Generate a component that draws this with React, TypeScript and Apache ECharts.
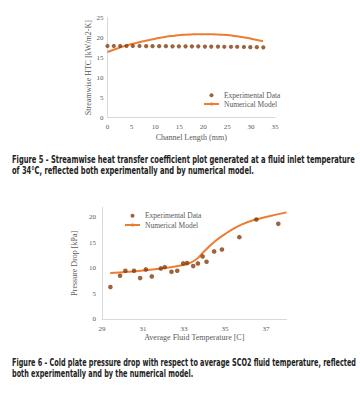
import React, { useEffect, useRef } from "react";
import * as echarts from "echarts";

// ---- Figure 5 data ----
const htcExpX = [0, 1.32, 2.64, 3.97, 5.29, 6.69, 8.08, 9.41, 10.8, 12.2, 13.59, 14.92, 16.31, 17.64, 18.96, 20.36, 21.68, 23.08, 24.4, 25.8, 27.1, 28.5, 29.84, 31.2, 32.56];
const htcExpY = [17.9, 17.9, 17.9, 17.9, 17.9, 17.9, 17.85, 17.85, 17.85, 17.85, 17.8, 17.8, 17.8, 17.8, 17.8, 17.75, 17.75, 17.75, 17.7, 17.7, 17.7, 17.65, 17.6, 17.6, 17.55];
const htcModelX = [0, 2, 4, 6, 8, 10, 12, 14, 16, 18, 20, 22, 24, 26, 28, 30, 32.5];
const htcModelY = [16.4, 17.25, 18.05, 18.65, 19.2, 19.7, 20.15, 20.45, 20.7, 20.8, 20.85, 20.82, 20.7, 20.48, 20.15, 19.7, 19.1];

// ---- Figure 6 data ----
const dpExpX = [29.41, 29.88, 30.14, 30.56, 30.86, 31.14, 31.43, 31.87, 32.06, 32.39, 32.67, 32.96, 33.15, 33.45, 33.68, 33.91, 34.1, 34.47, 34.85, 35.7, 36.53, 37.6];
const dpExpY = [6.33, 8.55, 9.53, 9.53, 8.1, 9.8, 8.43, 10.0, 10.25, 9.33, 9.53, 10.98, 11.04, 10.45, 10.98, 12.35, 11.3, 13.33, 13.72, 16.14, 19.6, 18.75];
const dpModelX = [29.4, 30.3, 31.0, 31.9, 32.9, 33.5, 34.0, 34.5, 35.1, 35.8, 36.5, 37.1, 38.0];
const dpModelY = [9.1, 9.35, 9.6, 10.0, 10.6, 11.5, 13.4, 15.3, 17.0, 18.6, 19.6, 20.2, 21.0];

const fig5TicksX = [0, 5, 10, 15, 20, 25, 30, 35];
const fig5TicksY = [0, 5, 10, 15, 20, 25];
const fig6TicksX = [29, 31, 33, 35, 37];
const fig6TicksY = [0, 5, 10, 15, 20];

const caption5 = [
  "Figure 5 - Streamwise heat transfer coefficient plot generated at a fluid inlet temperature",
  "of 34°C, reflected both experimentally and by numerical model.",
];
const caption6 = [
  "Figure 6 - Cold plate pressure drop with respect to average SCO2 fluid temperature, reflected",
  "both experimentally and by the numerical model.",
];

const SERIF = '"Liberation Serif", "Times New Roman", serif';
const CAP_FONT = '"Liberation Sans Narrow", "DejaVu Sans Condensed", "Liberation Sans", sans-serif';
const DOT = "#843C0C";
const LINE = "#ED7D31";
const AXIS = "#D9D9D9";
const LABEL = "#595959";

const zip = (xs: number[], ys: number[]) => xs.map((x, i) => [x, ys[i]]);

export default function App() {
  const ref = useRef<HTMLDivElement>(null);
  useEffect(() => {
    if (!ref.current) return;
    const chart = echarts.init(ref.current, undefined, { renderer: "svg" });

    const canvas = document.createElement("canvas");
    const ctx = canvas.getContext("2d")!;
    const capSize = 10.5;
    ctx.font = `bold ${capSize}px ${CAP_FONT}`;
    const sx5 = 343 / ctx.measureText(caption5[0]).width;
    const sx6 = 344 / ctx.measureText(caption6[0]).width;

    const capText = (text: string, y: number, sx: number) => ({
      type: "text",
      x: 12,
      y,
      scaleX: sx,
      style: {
        text,
        fontFamily: CAP_FONT,
        fontWeight: "bold",
        fontSize: capSize,
        fill: "#222222",
        verticalAlign: "middle",
        align: "left",
      },
    });

    const valueAxis = (opts: any, ticks: number[]) => ({
      type: "value",
      axisLine: { show: true, lineStyle: { color: AXIS, width: 1 } },
      axisTick: { show: false },
      splitLine: { show: false },
      nameTextStyle: { color: LABEL, fontFamily: SERIF, fontSize: 8 },
      nameLocation: "middle",
      ...opts,
      axisLabel: {
        color: LABEL,
        fontFamily: SERIF,
        fontSize: 7,
        formatter: (v: number) => (ticks.some((t) => Math.abs(t - v) < 1e-6) ? String(v) : ""),
        ...(opts.axisLabel || {}),
      },
    });

    const legendBase = {
      orient: "vertical",
      itemWidth: 15,
      itemHeight: 4,
      padding: 0,
      textStyle: { color: LABEL, fontFamily: SERIF, fontSize: 7.5, lineHeight: 8 },
    };

    chart.setOption({
      animation: false,
      grid: [
        { left: 107.5, top: 17.5, width: 167.5, height: 100.2, containLabel: false },
        { left: 102, top: 207.3, width: 184.5, height: 112, containLabel: false },
      ],
      xAxis: [
        valueAxis({ gridIndex: 0, min: 0, max: 35, interval: 5, name: "Channel Length (mm)", nameGap: 15.5, axisLabel: { margin: 5.5 } }, fig5TicksX),
        valueAxis({ gridIndex: 1, min: 29, max: 38, interval: 2, name: "Average Fluid Temperature [C]", nameGap: 13, axisLabel: { margin: 6.5 } }, fig6TicksX),
      ],
      yAxis: [
        valueAxis({ gridIndex: 0, min: 0, max: 25, interval: 5, name: "Streamwise HTC [kW/m2-K]", nameGap: 14, axisLabel: { margin: 4 } }, fig5TicksY),
        valueAxis({ gridIndex: 1, min: 0, max: 22, interval: 5, name: "Pressure Drop [kPa]", nameGap: 15, axisLabel: { margin: 6 } }, fig6TicksY),
      ],
      legend: [
        { ...legendBase, left: 203, top: 91.3, itemGap: 0.7, data: ["Experimental Data", "Numerical Model"] },
        { ...legendBase, left: 124, top: 211.7, itemGap: 1.3, data: ["Experimental Data ", "Numerical Model "] },
      ],
      series: [
        {
          name: "Experimental Data",
          type: "scatter",
          xAxisIndex: 0,
          yAxisIndex: 0,
          symbol: "circle",
          symbolSize: 4.2,
          itemStyle: { color: DOT },
          data: zip(htcExpX, htcExpY),
          z: 3,
        },
        {
          name: "Numerical Model",
          type: "line",
          xAxisIndex: 0,
          yAxisIndex: 0,
          symbol: "none",
          smooth: true,
          lineStyle: { color: LINE, width: 2 },
          itemStyle: { color: LINE },
          data: zip(htcModelX, htcModelY),
          z: 2,
        },
        {
          name: "Experimental Data ",
          type: "scatter",
          xAxisIndex: 1,
          yAxisIndex: 1,
          symbol: "circle",
          symbolSize: 4.6,
          itemStyle: { color: DOT },
          data: zip(dpExpX, dpExpY),
          z: 3,
        },
        {
          name: "Numerical Model ",
          type: "line",
          xAxisIndex: 1,
          yAxisIndex: 1,
          symbol: "none",
          smooth: true,
          lineStyle: { color: LINE, width: 2 },
          itemStyle: { color: LINE },
          data: zip(dpModelX, dpModelY),
          z: 2,
        },
      ],
      graphic: [
        capText(caption5[0], 160, sx5),
        capText(caption5[1], 171, sx5),
        capText(caption6[0], 362.3, sx6),
        capText(caption6[1], 373.3, sx6),
      ],
    });
    return () => chart.dispose();
  }, []);
  return (
    <div
      ref={ref}
      style={{ position: "absolute", left: 0, top: 0, width: 360, height: 397, background: "#fff" }}
    />
  );
}
